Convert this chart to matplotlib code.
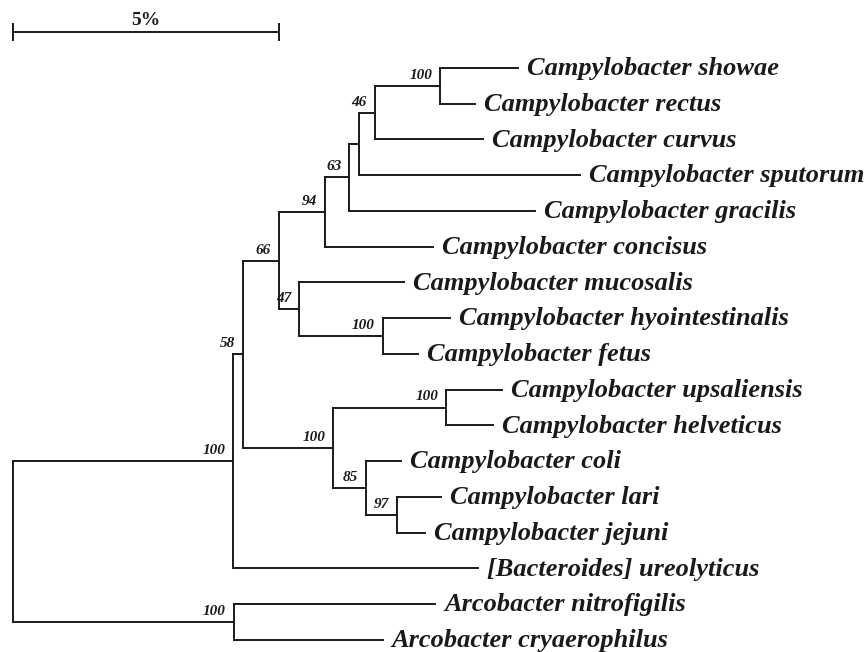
import matplotlib.pyplot as plt

plt.rcParams['font.family'] = ['Liberation Serif', 'DejaVu Serif']

# tips, top to bottom
taxa = ['Campylobacter showae', 'Campylobacter rectus', 'Campylobacter curvus',
        'Campylobacter sputorum', 'Campylobacter gracilis', 'Campylobacter concisus',
        'Campylobacter mucosalis', 'Campylobacter hyointestinalis', 'Campylobacter fetus',
        'Campylobacter upsaliensis', 'Campylobacter helveticus', 'Campylobacter coli',
        'Campylobacter lari', 'Campylobacter jejuni', '[Bacteroides] ureolyticus',
        'Arcobacter nitrofigilis', 'Arcobacter cryaerophilus']
# distance of each tip from the root (% divergence)
tip_depth = [9.49, 8.68, 8.83, 10.66, 9.81, 7.89, 7.35, 8.21, 7.61,
             9.19, 9.02, 7.29, 8.05, 7.74, 8.74, 7.93, 6.95]

# internal nodes: name -> (children, depth, bootstrap)
nodes = {
    'showae':     (['Campylobacter showae', 'Campylobacter rectus'], 8.03, '100'),
    'curvus':     (['showae', 'Campylobacter curvus'], 6.80, '46'),
    'sputorum':   (['curvus', 'Campylobacter sputorum'], 6.50, ''),
    'gracilis':   (['sputorum', 'Campylobacter gracilis'], 6.32, '63'),
    'concisus':   (['gracilis', 'Campylobacter concisus'], 5.86, '94'),
    'fetus':      (['Campylobacter hyointestinalis', 'Campylobacter fetus'], 6.95, '100'),
    'mucosalis':  (['Campylobacter mucosalis', 'fetus'], 5.38, '47'),
    'oral':       (['concisus', 'mucosalis'], 5.00, '66'),
    'upsaliensis': (['Campylobacter upsaliensis', 'Campylobacter helveticus'], 8.14, '100'),
    'lari':       (['Campylobacter lari', 'Campylobacter jejuni'], 7.22, '97'),
    'coli':       (['Campylobacter coli', 'lari'], 6.64, '85'),
    'thermo':     (['upsaliensis', 'coli'], 6.02, '100'),
    'campy':      (['oral', 'thermo'], 4.32, '58'),
    'ingroup':    (['campy', '[Bacteroides] ureolyticus'], 4.14, '100'),
    'arco':       (['Arcobacter nitrofigilis', 'Arcobacter cryaerophilus'], 4.15, '100'),
    'root':       (['ingroup', 'arco'], 0.0, ''),
}

scale_len = 5
scale_label = '5%'

pos = {}
for i, t in enumerate(taxa):
    pos[t] = (tip_depth[i], i)


def place(name):
    if name in pos:
        return pos[name]
    kids, d, _ = nodes[name]
    ys = [place(k)[1] for k in kids]
    pos[name] = (d, sum(ys) / len(ys))
    return pos[name]


place('root')

fig = plt.figure(figsize=[8.67, 6.52], dpi=100)
ax = fig.add_axes([0, 0, 1, 1])
ax.set_xlim(-0.244, 16.05)
ax.set_ylim(16.34, -1.902)
ax.axis('off')

lc = '#1a1a1a'
lw = 1.4
for name, (kids, d, boot) in nodes.items():
    x, y = pos[name]
    kys = [pos[k][1] for k in kids]
    ax.plot([x, x], [min(kys), max(kys)], color=lc, lw=lw, solid_capstyle='projecting')
    for k in kids:
        kx, ky = pos[k]
        ax.plot([x, kx], [ky, ky], color=lc, lw=lw, solid_capstyle='projecting')
    if boot:
        ax.text(x - 0.15, y - 0.2, boot, ha='right', va='baseline',
                fontsize=11, fontweight='bold', fontstyle='italic', color=lc)

for i, t in enumerate(taxa):
    ax.text(tip_depth[i] + 0.17, i + 0.2, t, ha='left', va='baseline',
            fontsize=19, fontweight='bold', fontstyle='italic', color=lc)

# scale bar
ax.plot([0, scale_len], [-1, -1], color=lc, lw=lw)
ax.plot([0, 0], [-1.22, -0.78], color=lc, lw=lw)
ax.plot([scale_len, scale_len], [-1.22, -0.78], color=lc, lw=lw)
ax.text(scale_len / 2, -1.2, scale_label, ha='center', va='baseline',
        fontsize=14, fontweight='bold', color=lc)

plt.savefig('out.png', dpi=100)
